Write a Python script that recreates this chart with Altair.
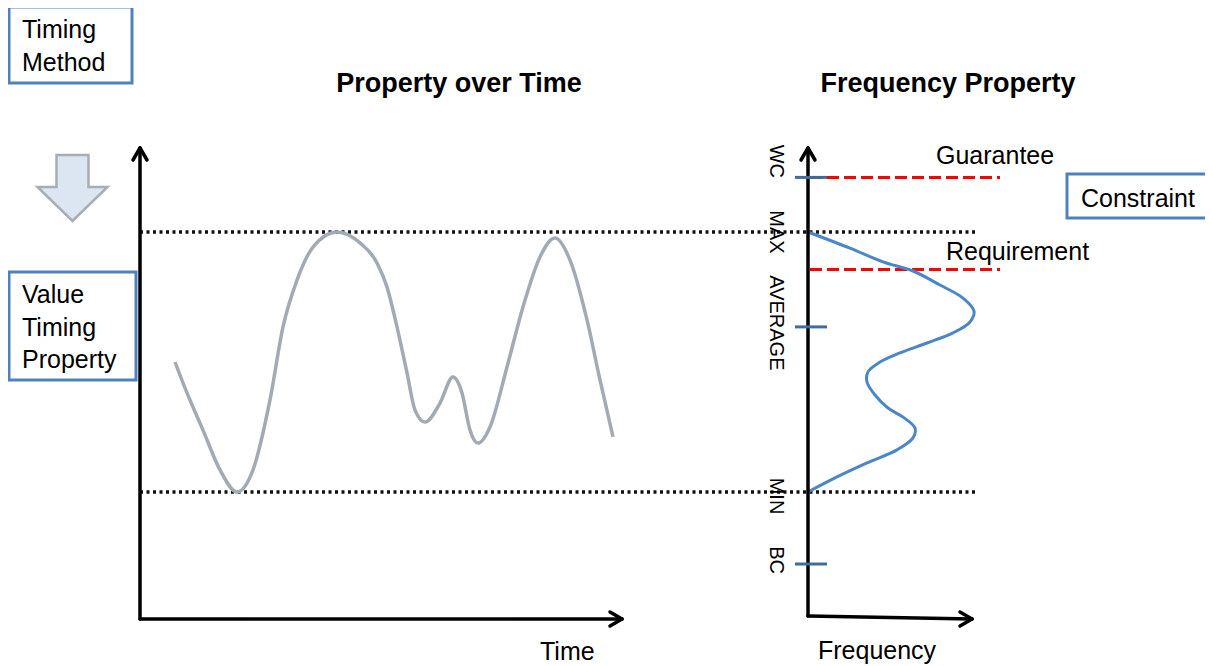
import altair as alt
import pandas as pd

# ---------------- data ----------------
# Property over Time (gray curve): time units vs property value (MIN = 0, MAX = 100)
time_pts = [35, 47, 63, 80, 97, 113, 130, 143, 157, 173, 197, 220, 237, 247, 257, 267,
            275, 285, 300, 313, 322, 330, 338, 350, 367, 383, 400, 415, 430, 447, 460, 473]
prop_vals = [50, 38.1, 23.8, 8.5, 0, 8.5, 35.4, 63.5, 81.5, 94.2, 100, 95.8, 88.1, 78.8, 63.5, 45.8,
             31.5, 26.9, 34.2, 44.2, 38.1, 23.8, 18.8, 25, 48.1, 71.2, 90.4, 97.7, 89.2, 66.2, 43.1, 21.2]

# Frequency Property (blue curve): frequency vs property value
freq_vals = [0, 42, 75, 105, 132, 155, 166, 162, 145, 119, 92, 72, 60, 59, 67, 80, 95, 107, 105, 89, 59, 29, 0]
freq_prop = [100, 93.8, 88.5, 85, 79.6, 74.6, 69.6, 65.4, 61.2, 57.3, 53.5, 50, 46.2, 42.3, 37.3, 32.3,
             28.8, 24.6, 20.8, 16.2, 11.2, 5.8, 0]

# levels on the property axis
level_names = ["WC", "MAX", "AVERAGE", "MIN", "BC"]
level_vals = [121, 100, 63.5, 0, -27.7]

# thresholds
thr_names = ["Guarantee", "Requirement"]
thr_vals = [121, 85.6]

# ---------------- tables ----------------
curve_df = pd.DataFrame({"time": time_pts, "value": prop_vals})
freq_df = pd.DataFrame({"frequency": freq_vals, "value": freq_prop, "idx": list(range(len(freq_vals)))})
levels_df = pd.DataFrame({"level": level_names, "value": level_vals})
thr_df = pd.DataFrame({"name": thr_names, "value": thr_vals})
one = pd.DataFrame({"k": [1]})

# ---------------- layout / styles ----------------
W, H = 1197, 658
FONT = "Liberation Sans"
BOX = "#4f81bd"
TICK = "#3f6c9c"

TX = alt.Scale(domain=[8 - 140, 8 + W - 140], nice=False, zero=False)
FX = alt.Scale(domain=[8 - 808, 8 + W - 808], nice=False, zero=False)
Y = alt.Scale(domain=[(492 - (8 + H)) / 2.6, (492 - 8) / 2.6], nice=False, zero=False)


def seg(x1, y1, x2, y2, color="black", w=3.5):
    return alt.Chart(one).mark_rule(color=color, strokeWidth=w, strokeCap="round").encode(
        x=alt.value(x1 - 8), y=alt.value(y1 - 8), x2=alt.value(x2 - 8), y2=alt.value(y2 - 8))


def label(s, x, y, size=25, bold=False, align="left"):
    return alt.Chart(one).mark_text(text=s, font=FONT, fontSize=size,
                                    fontWeight="bold" if bold else "normal",
                                    align=align, baseline="alphabetic", color="black").encode(
        x=alt.value(x - 8), y=alt.value(y - 8))


def box(x1, y1, x2, y2):
    return alt.Chart(one).mark_rect(fill="white", stroke=BOX, strokeWidth=3).encode(
        x=alt.value(x1 - 8), x2=alt.value(x2 - 8), y=alt.value(y1 - 8), y2=alt.value(y2 - 8))


layers = []

# boxes with text
layers += [box(9, 7, 132, 83), label("Timing", 22, 38), label("Method", 22, 71)]
layers += [box(9, 272, 136, 380), label("Value", 22, 303), label("Timing", 22, 336), label("Property", 22, 368)]
layers += [box(1067, 174, 1230, 218), label("Constraint", 1081, 207)]

# block arrow
arrow_path = "M -0.457 -0.943 L 0.457 -0.943 L 0.457 -0.029 L 1 -0.029 L 0 0.943 L -1 -0.029 L -0.457 -0.029 Z"
layers.append(alt.Chart(one).mark_point(shape=arrow_path, size=4900, filled=True, fill="#dce6f2",
                                        stroke="#a6adb4", strokeWidth=2.5, opacity=1,
                                        strokeJoin="miter").encode(
    x=alt.value(72.5 - 8), y=alt.value(188 - 8)))

# titles
layers += [label("Property over Time", 459, 92, size=27, bold=True, align="center"),
           label("Frequency Property", 948, 92, size=27, bold=True, align="center")]

# dotted MAX / MIN lines
layers.append(alt.Chart(levels_df).transform_filter(
    alt.FieldOneOfPredicate(field="level", oneOf=["MAX", "MIN"])).mark_rule(
    color="#111111", strokeWidth=3.5, strokeDash=[3, 3.5]).encode(
    y=alt.Y("value:Q", scale=Y, axis=None), x=alt.value(140 - 8), x2=alt.value(975 - 8)))

# red dashed thresholds
layers.append(alt.Chart(thr_df).mark_rule(color="#ff0000", strokeWidth=3, strokeDash=[12, 5]).encode(
    y=alt.Y("value:Q", scale=Y, axis=None), x=alt.value(810 - 8), x2=alt.value(1000 - 8)))
layers += [label("Guarantee", 936, 164), label("Requirement", 946, 260)]

# curves
layers.append(alt.Chart(curve_df).mark_line(color="#a2aab3", strokeWidth=3.5, interpolate="monotone").encode(
    x=alt.X("time:Q", scale=TX, axis=None), y=alt.Y("value:Q", scale=Y, axis=None)))
layers.append(alt.Chart(freq_df).mark_line(color="#4a86c8", strokeWidth=3, interpolate="catmull-rom").encode(
    x=alt.X("frequency:Q", scale=FX, axis=None), y=alt.Y("value:Q", scale=Y, axis=None),
    order=alt.Order("idx:Q")))

# axes (left panel)
layers += [seg(140, 148, 140, 619), seg(140, 619, 622, 619),
           seg(133, 160, 140, 148), seg(147, 160, 140, 148),
           seg(610, 612, 622, 619), seg(610, 626, 622, 619)]
# axes (right panel)
layers += [seg(808, 148, 808, 616), seg(808, 616, 972, 619),
           seg(801, 160, 808, 148), seg(815, 160, 808, 148),
           seg(960, 612, 972, 619), seg(960, 626, 972, 619)]

# ticks on the frequency axis
layers.append(alt.Chart(levels_df).transform_filter(
    alt.FieldOneOfPredicate(field="level", oneOf=["WC", "AVERAGE", "BC"])).mark_rule(
    color=TICK, strokeWidth=3).encode(
    y=alt.Y("value:Q", scale=Y, axis=None), x=alt.value(795 - 8), x2=alt.value(827 - 8)))

# rotated level labels
offsets = {"WC": -16, "MAX": 0, "AVERAGE": -4, "MIN": 4, "BC": -4}
for name in level_names:
    layers.append(alt.Chart(levels_df).transform_filter(alt.datum.level == name).mark_text(
        font=FONT, fontSize=20, angle=90, align="center", baseline="middle", color="black",
        yOffset=offsets[name]).encode(
        y=alt.Y("value:Q", scale=Y, axis=None), x=alt.value(776 - 8), text="level:N"))

# axis titles
layers += [label("Time", 540, 660), label("Frequency", 818, 659)]

chart = alt.layer(*layers).resolve_scale(x="independent").properties(
    width=W, height=H, padding=0, background="white",
    autosize=alt.AutoSizeParams(type="none")
).configure_view(stroke=None)

chart.save("out.html", embed_options={"renderer": "svg", "actions": False})
